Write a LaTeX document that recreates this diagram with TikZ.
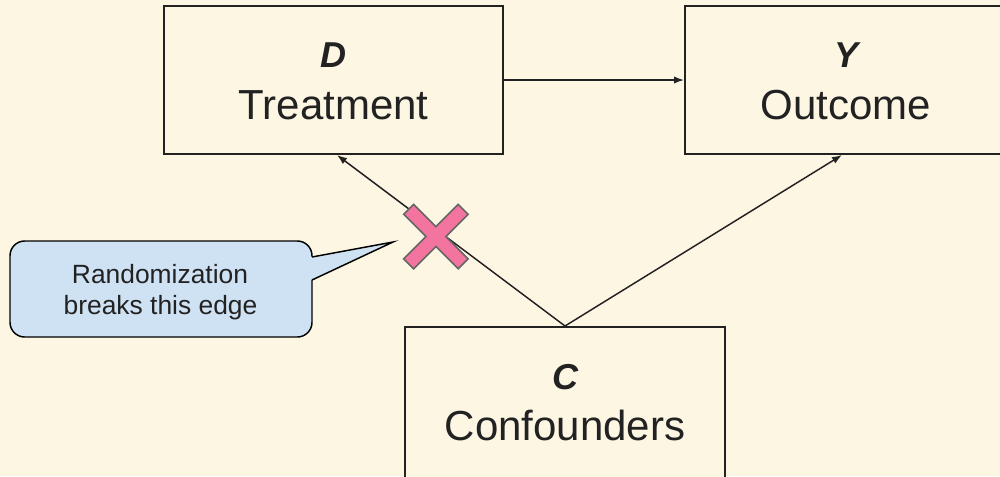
\documentclass[tikz,border=0pt]{standalone}
\usepackage{fontspec}
\setmainfont{Liberation Sans}
\usetikzlibrary{arrows.meta,calc}
\definecolor{paper}{HTML}{FDF6E3}
\definecolor{notefill}{HTML}{CFE2F3}
\definecolor{crossfill}{HTML}{F2749F}
\definecolor{crossedge}{HTML}{666666}
\definecolor{ink}{HTML}{222222}

\begin{document}
\begin{tikzpicture}[x=0.75pt,y=-0.75pt,
  box/.style={draw=ink, line width=1.5pt, inner sep=0pt, fill=paper},
  sym/.style={font=\fontsize{27}{27}\selectfont\bfseries\itshape, text=ink, anchor=base, inner sep=0pt},
  roletext/.style={font=\fontsize{31.5}{31.5}\selectfont, text=ink, anchor=base, inner sep=0pt},
  notetext/.style={font=\fontsize{19.8}{19.8}\selectfont, text=ink, anchor=base, inner sep=0pt},
  link/.style={draw=ink, line width=1.1pt, -{Latex[length=7.5pt,width=5.5pt]}},
]
\useasboundingbox[fill=paper] (0,0) rectangle (1000,476);

% variable boxes
\node[box, minimum width=254.25pt, minimum height=111pt] (D) at (333.5,80) {};
\node[box, minimum width=241.5pt, minimum height=111pt] (Y) at (846,80) {};
\node[box, minimum width=240pt, minimum height=115.5pt] (C) at (565,404) {};

\node[sym] (Dsym) at (333.5,67) {D};
\node[roletext] (Dname) at (333.5,119) {Treatment};
\node[sym] (Ysym) at (846,67) {Y};
\node[roletext] (Yname) at (846,119) {Outcome};
\node[sym] (Csym) at (565,389) {C};
\node[roletext] (Cname) at (565,440) {Confounders};

% causal edges
\draw[link] (D.east) -- (Y.west);
\draw[link] (C.north) -- ([xshift=2.6pt]D.south);
\draw[link] (C.north) -- ([xshift=-3pt]Y.south);

% cross over the confounding edge
\begin{scope}[shift={(435.9,236.6)}, rotate=45]
  \draw[fill=crossfill, draw=crossedge, line width=1.2pt, line join=miter]
    (-7,-38.5) -- (7,-38.5) -- (7,-7) -- (38.5,-7) -- (38.5,7) -- (7,7)
    -- (7,38.5) -- (-7,38.5) -- (-7,7) -- (-38.5,7) -- (-38.5,-7) -- (-7,-7) -- cycle;
\end{scope}

% speech bubble
\draw[fill=notefill, draw=black, line width=1.1pt, rounded corners=11pt] (10,241) rectangle (312,337);
\fill[notefill] (311,257) -- (393,242) -- (311,280) -- cycle;
\draw[black, line width=1.1pt, line join=miter] (312,257) -- (393,242) -- (312,280);
\node[notetext] (note1) at (160,283) {Randomization};
\node[notetext] (note2) at (160.5,314) {breaks this edge};
\end{tikzpicture}
\end{document}
